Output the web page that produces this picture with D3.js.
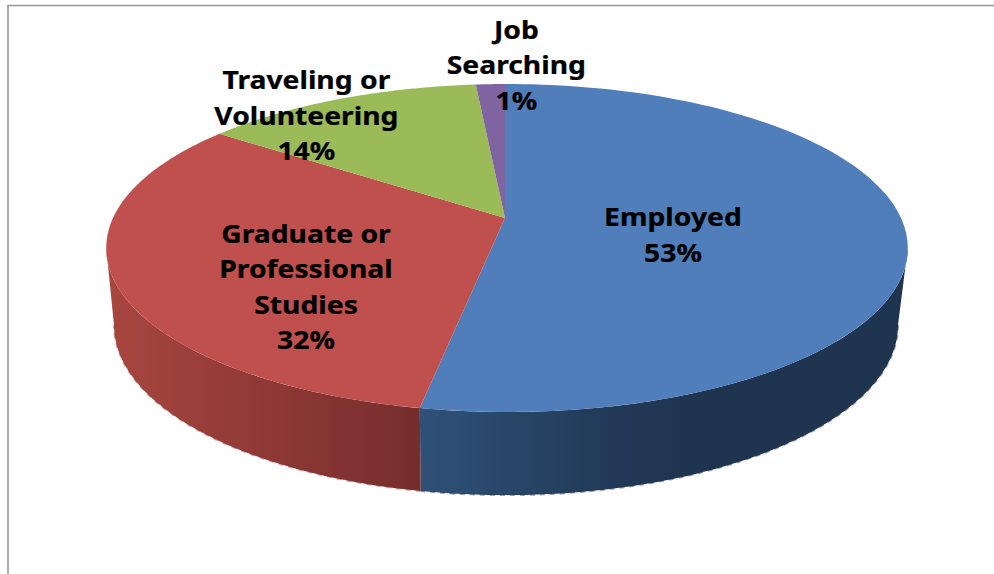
<!DOCTYPE html>
<html>
<head>
<meta charset="utf-8">
<script src="https://cdn.jsdelivr.net/npm/d3@7/dist/d3.min.js"></script>
<style>
html,body{margin:0;padding:0;background:#fff;overflow:hidden}
svg{display:block}
text{font-family:"Noto Sans",sans-serif;font-weight:700;fill:#000}
</style>
</head>
<body>
<svg id="c" width="994" height="574"></svg>
<script>
// Data
const categories = ["Employed", "Graduate or Professional Studies", "Traveling or Volunteering", "Job Searching"];
const categoryLines = [["Employed"], ["Graduate or", "Professional", "Studies"], ["Traveling or", "Volunteering"], ["Job", "Searching"]];
const shares = [53, 32.1, 13.5, 1.4];
const topColors = ["#4F7EBB", "#BF504D", "#9BBB59", "#8064A2"];

// Layout
const W = 994, H = 574;
const persp = 0.183;
const apex = [505, 218];
const topDisc = {x0: 507, y0: 218, a: 394, b: 158.5};
const baseDisc = {x0: 506, y0: 294, a: 385.4, b: 164.3};
const startRotation = -0.006;
const labelRadii = [0.42, 0.5245, 0.9, 1];
const labelNudges = [[2, 11], [0, 37], [-45, 6], [28, -19]];
const fontSize = 25.5, lineGap = 35.3, textStretch = 1.11;

const svg = d3.select("#c");
svg.append("path").attr("d", `M8 ${H}V5.5H${W}`).attr("fill", "none").attr("stroke", "#989898").attr("stroke-width", 1.6);

const project = (disc, angle, r = 1) => {
  const u = Math.sin(angle) * r, v = Math.cos(angle) * r, w = 1 + persp * v;
  return [disc.x0 + disc.a * u / w, disc.y0 - disc.b * v / w];
};
const arcPoints = (disc, a0, a1) => d3.range(0, 121).map(i => project(disc, a0 + (a1 - a0) * i / 120));
const line = d3.line();

const arcs = d3.pie().value(d => d).sort(null)
  .startAngle(startRotation).endAngle(2 * Math.PI + startRotation)(shares);

// Gradients of the wall
const defs = svg.append("defs");
const grad = (id, x1, x2, stops) => {
  const g = defs.append("linearGradient").attr("id", id).attr("gradientUnits", "userSpaceOnUse")
    .attr("x1", x1).attr("x2", x2).attr("y1", 0).attr("y2", 0);
  stops.forEach(([o, c]) => g.append("stop").attr("offset", o).attr("stop-color", c));
};
grad("wall0", 420, 905, [[0, "#2F5178"], [0.35, "#233C5B"], [0.55, "#1F344F"], [1, "#1F344F"]]);
grad("wall1", 108, 420, [[0, "#A8463F"], [0.5, "#8F3936"], [1, "#752E2C"]]);

// Visible front wall runs between the two widest points of the disc
const wallStart = Math.PI - Math.acos(persp), wallEnd = Math.PI + Math.acos(persp);
const wallG = svg.append("g");
arcs.forEach((d, i) => {
  const a0 = Math.max(d.startAngle, wallStart), a1 = Math.min(d.endAngle, wallEnd);
  if (a1 <= a0) return;
  const upper = arcPoints(topDisc, a0, a1), lower = arcPoints(baseDisc, a0, a1);
  wallG.append("path").attr("d", line(upper.concat(lower.reverse())) + "Z")
    .attr("fill", `url(#wall${i})`);
  wallG.append("path").attr("d", line(arcPoints(baseDisc, a0, a1)))
    .attr("fill", "none").attr("stroke", i === 0 ? "#1F344F" : "#8F3936")
    .attr("stroke-opacity", 0.45).attr("stroke-width", 2).attr("stroke-dasharray", "5 5");
});

// Top face
svg.append("g").selectAll("path").data(arcs).join("path")
  .attr("d", d => line([apex, ...arcPoints(topDisc, d.startAngle, d.endAngle)]) + "Z")
  .attr("fill", (d, i) => topColors[i]);

// Labels
const pct = d3.format(".0f");
const labels = svg.append("g").attr("text-anchor", "middle").attr("font-size", fontSize);
arcs.forEach((d, i) => {
  const [cx, cy] = project(topDisc, (d.startAngle + d.endAngle) / 2, labelRadii[i]);
  const rows = categoryLines[i].concat(pct(d.value) + "%");
  const x = cx + labelNudges[i][0] - (topDisc.x0 - apex[0]), y = cy + labelNudges[i][1];
  const t = labels.append("text").attr("aria-label", categories[i])
    .attr("transform", `translate(${x},0) scale(${textStretch},1)`)
    .attr("stroke", "#000").attr("stroke-width", 0.25);
  rows.forEach((row, k) => {
    t.append("tspan").attr("x", 0)
      .attr("y", y + (k - (rows.length - 1) / 2) * lineGap + fontSize * 0.36)
      .text(row);
  });
});
</script>
</body>
</html>
